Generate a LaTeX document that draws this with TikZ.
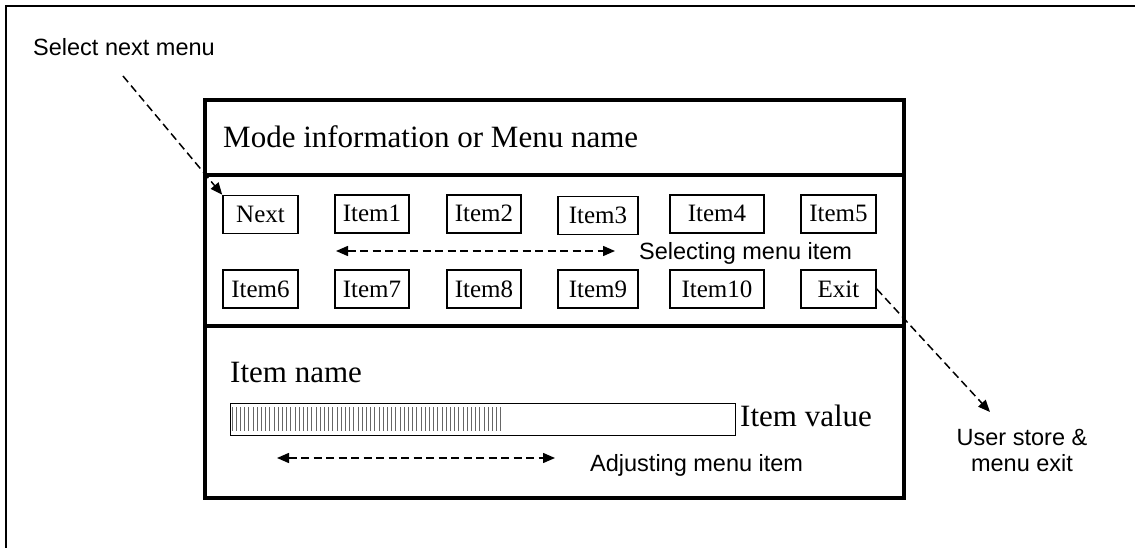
\documentclass[tikz,border=0pt]{standalone}
\usepackage{fontspec}
\setmainfont{Liberation Serif}
\newfontfamily\labelfont{Liberation Sans}
\usetikzlibrary{arrows.meta}
\tikzset{
  panel/.style={draw, line width=3.4pt},
  sep/.style={line width=4.4pt},
  itembox/.style={draw, line width=1.5pt, minimum height=38pt, inner sep=0pt, text height=17pt, text depth=1pt, font=\fontsize{25}{28}\selectfont},
  bigtext/.style={font=\fontsize{31}{36}\selectfont, inner sep=0pt},
  note/.style={font=\labelfont\fontsize{23.5}{26}\selectfont, inner sep=0pt},
  tip/.style={Triangle[length=12pt,width=10pt]},
  dasharrow/.style={line width=1.5pt, dash pattern=on 8pt off 4.5pt, -{Triangle[length=12pt,width=10pt]}},
  dasharrows/.style={line width=1.5pt, dash pattern=on 8pt off 4.5pt, {Triangle[length=12pt,width=10pt]}-{Triangle[length=12pt,width=10pt]}},
  hatch/.style={draw=black!60, line width=1pt}
}
\begin{document}
\begin{tikzpicture}[x=1pt,y=-1pt]
\useasboundingbox (0,0) rectangle (1135,548);
\clip (0,0) rectangle (1135,548);
\fill[white] (0,0) rectangle (1135,548);
% outer frame
\draw[line width=1.4pt] (6,560) -- (6,6) -- (1150,6);

% main panels
\draw[panel] (205,100) rectangle (904,498);
\draw[sep] (205,175) -- (904,175);
\draw[sep] (205,326) -- (904,326);

\node[bigtext, anchor=base west] (title) at (223,148) {Mode information or Menu name};

% item boxes row 1
\node[itembox, minimum width=75pt]  (next)  at (260.5,214.5) {Next};
\node[itembox, minimum width=74pt]  (i1)    at (372,214) {Item1};
\node[itembox, minimum width=74pt]  (i2)    at (484,214) {Item2};
\node[itembox, minimum width=80pt]  (i3)    at (598,215.5) {Item3};
\node[itembox, minimum width=94pt]  (i4)    at (717,214) {Item4};
\node[itembox, minimum width=75pt]  (i5)    at (838.5,214) {Item5};
% row 2
\node[itembox, minimum width=75pt]  (i6)    at (260.5,289) {Item6};
\node[itembox, minimum width=74pt]  (i7)    at (372,289) {Item7};
\node[itembox, minimum width=74pt]  (i8)    at (484,289) {Item8};
\node[itembox, minimum width=80pt]  (i9)    at (598,289) {Item9};
\node[itembox, minimum width=94pt]  (i10)   at (717,289) {Item10};
\node[itembox, minimum width=75pt]  (exit)  at (838.5,289) {Exit};

% selecting arrow
\coordinate (selL) at (336,251);
\coordinate (selR) at (615,251);
\draw[dasharrows] (selL) -- (selR);
\node[note, anchor=west] (seltext) at (639,253) {Selecting menu item};

% value panel
\node[bigtext, anchor=base west] (iname) at (230,382) {Item name};
\node[draw, line width=1.4pt, minimum width=505pt, minimum height=32pt, inner sep=0pt, anchor=north west] (bar) at (230,403) {};
\foreach \i in {0,...,64} {
  \draw[hatch] (232+\i*4.2,407) -- (232+\i*4.2,431);
}
\node[bigtext, anchor=base west] (ivalue) at (740,426) {Item value};

\coordinate (adjL) at (277,458);
\coordinate (adjR) at (555,458);
\draw[dasharrows] (adjL) -- (adjR);
\node[note, anchor=west] (adjtext) at (590,465) {Adjusting menu item};

% annotations
\node[note, anchor=west] (selnext) at (33,47) {Select next menu};
\coordinate (selstart) at (123,76);
\draw[dasharrow] (selstart) -- (next.north west);

\node[note, align=center] (store) at (1022,450) {User store \&\\menu exit};
\coordinate (storetip) at (990,412);
\draw[dasharrow] (exit.east) -- (storetip);
\end{tikzpicture}
\end{document}
